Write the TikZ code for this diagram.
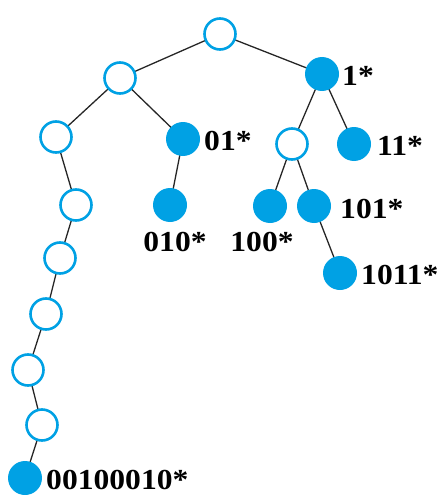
\documentclass[tikz,border=0pt]{standalone}
\usepackage{fontspec}
\setmainfont{Liberation Serif}
\definecolor{trieblue}{RGB}{0,161,228}
\newcommand{\keytext}[1]{\scalebox{1.09}[1]{#1}}
\begin{document}
\begin{tikzpicture}[x=1pt,y=-1pt,
  open/.style={circle,draw=trieblue,line width=2.6pt,fill=white,minimum size=31pt,inner sep=0pt},
  full/.style={circle,fill=trieblue,minimum size=34pt,inner sep=0pt},
  edge/.style={draw=black!85,line width=1.3pt},
  tag/.style={font=\fontsize{29}{29}\selectfont\bfseries,inner sep=0pt,text=black}]
\useasboundingbox (0,0) rectangle (439,495);
% edges go underneath the circles
\coordinate (r) at (220,34);
\coordinate (a0) at (120,78);
\coordinate (a1) at (322,74);
\coordinate (a00) at (56,137);
\coordinate (a01) at (183,139);
\coordinate (a10) at (292,144);
\coordinate (a11) at (354,144);
\coordinate (a001) at (76,205);
\coordinate (a010) at (170,205);
\coordinate (a100) at (270,206);
\coordinate (a101) at (314,206);
\coordinate (a0010) at (60,258);
\coordinate (a1011) at (340,273);
\coordinate (a00100) at (46,314);
\coordinate (a001000) at (28,370);
\coordinate (a0010001) at (42,425);
\coordinate (a00100010) at (25,478);
\foreach \u/\v in {r/a0,r/a1,a0/a00,a0/a01,a1/a10,a1/a11,a00/a001,a01/a010,
  a10/a100,a10/a101,a001/a0010,a101/a1011,a0010/a00100,a00100/a001000,
  a001000/a0010001,a0010001/a00100010}
  \draw[edge] (\u) -- (\v);
% trie nodes
\node[open] (root) at (r) {};
\node[open] (n0) at (a0) {};
\node[full] (n1) at (a1) {};
\node[open] (n00) at (a00) {};
\node[full] (n01) at (a01) {};
\node[open] (n10) at (a10) {};
\node[full] (n11) at (a11) {};
\node[open] (n001) at (a001) {};
\node[full] (n010) at (a010) {};
\node[full] (n100) at (a100) {};
\node[full] (n101) at (a101) {};
\node[open] (n0010) at (a0010) {};
\node[full] (n1011) at (a1011) {};
\node[open] (n00100) at (a00100) {};
\node[open] (n001000) at (a001000) {};
\node[open] (n0010001) at (a0010001) {};
\node[full] (n00100010) at (a00100010) {};
% stored keys
\node[tag,anchor=west] (t1) at (342,76) {\keytext{1*}};
\node[tag,anchor=west] (t01) at (204,141) {\keytext{01*}};
\node[tag,anchor=west] (t11) at (377,146) {\keytext{11*}};
\node[tag,anchor=west] (t101) at (340,209) {\keytext{101*}};
\node[tag] (t010) at (175,242) {\keytext{010*}};
\node[tag] (t100) at (262,242) {\keytext{100*}};
\node[tag,anchor=west] (t1011) at (361,275) {\keytext{1011*}};
\node[tag,anchor=west] (t00100010) at (46,480) {\keytext{00100010*}};
\end{tikzpicture}
\end{document}
